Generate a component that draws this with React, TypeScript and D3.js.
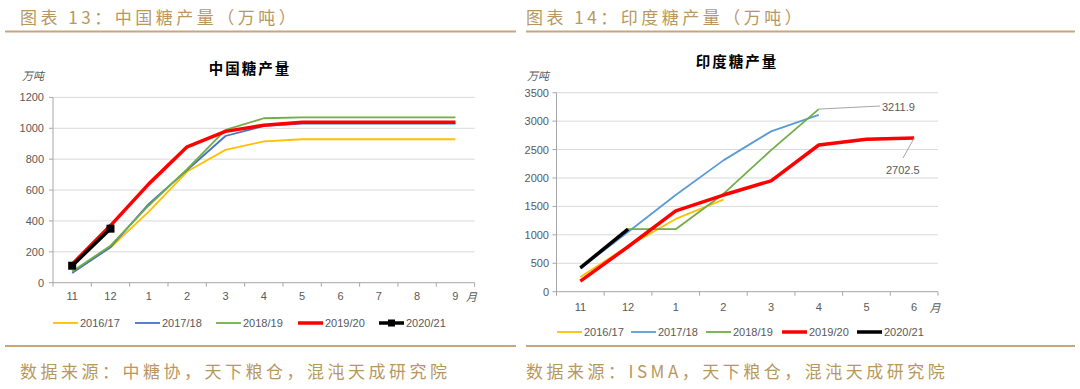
import React from 'react';
import * as d3 from 'd3';

// ---------- data ----------
const cnCats = ['11', '12', '1', '2', '3', '4', '5', '6', '7', '8', '9'];
const cn1617 = [70, 228, 460, 720, 860, 915, 929, 929, 929, 929, 929];
const cn1718 = [62, 230, 510, 730, 950, 1015, 1031, 1031, 1031, 1031, 1031];
const cn1819 = [72, 240, 500, 735, 990, 1065, 1071, 1071, 1071, 1071, 1071];
const cn1920 = [120, 370, 640, 880, 980, 1020, 1039, 1039, 1039, 1039, 1039];
const cn2021 = [110, 350];
const cnTicks = [0, 200, 400, 600, 800, 1000, 1200];

const inCats = ['11', '12', '1', '2', '3', '4', '5', '6'];
const in1617 = [260, 800, 1280, 1620];
const in1718 = [410, 1050, 1700, 2310, 2820, 3110];
const in1819 = [420, 1100, 1100, 1720, 2490, 3211.9];
const in1920 = [185, 790, 1420, 1700, 1950, 2580, 2680, 2702.5];
const in2021 = [420, 1100];
const inTicks = [0, 500, 1000, 1500, 2000, 2500, 3000, 3500];

const seasons = ['2016/17', '2017/18', '2018/19', '2019/20', '2020/21'];
const cnColors = ['#FFC000', '#4472C4', '#70AD47', '#FF0000', '#000000'];
const inColors = ['#FFC000', '#5B9BD5', '#70AD47', '#FF0000', '#000000'];
const widths = [1.8, 1.8, 1.8, 3.5, 3.5];

const TAN = '#b8975f';
const GRAY = '#595959';
const NUM_FONT = '"Liberation Sans", Arial, sans-serif';
const CJK = '"Noto Sans CJK SC", sans-serif';

type ChartProps = {
  cats: string[];
  series: number[][];
  colors: string[];
  ticks: number[];
  x0: number; x1: number; yBottom: number; yTop: number;
  yMax: number; labelRight: number; xLabelY: number;
  title: string; titleX: number; titleY: number;
  unitX: number; unitY: number; markers: boolean;
  legendY: number; legendX: number[];
};

function Chart(p: ChartProps) {
  const x = d3.scaleBand<string>().domain(p.cats).range([p.x0, p.x1]).padding(0);
  const y = d3.scaleLinear().domain([0, p.yMax]).range([p.yBottom, p.yTop]);
  const cx = (i: number) => (x(p.cats[i]) as number) + x.bandwidth() / 2;
  const line = d3.line<number>().x((_, i) => cx(i)).y((d) => y(d));
  const bounds = p.cats.map((c) => x(c) as number).concat([p.x1]);
  return (
    <g>
      <text x={p.titleX} y={p.titleY} textAnchor="middle" dominantBaseline="central"
        fontFamily={CJK} fontWeight="bold" fontSize={14.5} letterSpacing={2} fill="#000">{p.title}</text>
      <text x={p.unitX} y={p.unitY} dominantBaseline="central" fontFamily={CJK}
        fontSize={11} fill={GRAY} fontStyle="italic">万吨</text>
      {p.ticks.map((t) => (
        <g key={t}>
          {t > 0 && <line x1={p.x0} x2={p.x1} y1={y(t)} y2={y(t)} stroke="#d9d9d9" strokeWidth={1} />}
          <line x1={p.x0 - 4} x2={p.x0} y1={y(t)} y2={y(t)} stroke="#a6a6a6" strokeWidth={1} />
          <text x={p.labelRight} y={y(t)} textAnchor="end" dominantBaseline="central"
            fontFamily={NUM_FONT} fontSize={11} fill={GRAY}>{t}</text>
        </g>
      ))}
      <line x1={p.x0} x2={p.x0} y1={p.yTop} y2={p.yBottom} stroke="#a6a6a6" strokeWidth={1} />
      <line x1={p.x0} x2={p.x1} y1={p.yBottom} y2={p.yBottom} stroke="#a6a6a6" strokeWidth={1} />
      {bounds.map((b, i) => (
        <line key={i} x1={b} x2={b} y1={p.yBottom} y2={p.yBottom + 4} stroke="#a6a6a6" strokeWidth={1} />
      ))}
      {p.cats.map((c, i) => (
        <text key={c + i} x={cx(i)} y={p.xLabelY} textAnchor="middle" dominantBaseline="central"
          fontFamily={NUM_FONT} fontSize={11} fill={GRAY}>{c}</text>
      ))}
      <text x={p.x1 - 3} y={p.xLabelY} textAnchor="middle" dominantBaseline="central"
        fontFamily={CJK} fontSize={11} fill={GRAY} fontStyle="italic">月</text>
      {p.series.map((s, k) => (
        <path key={k} d={line(s) as string} fill="none" stroke={p.colors[k]} strokeWidth={widths[k]}
          strokeLinejoin="round" strokeLinecap="butt" />
      ))}
      {p.markers && p.series[4].map((v, i) => (
        <rect key={i} x={cx(i) - 4} y={y(v) - 4} width={8} height={8} fill="#000" />
      ))}
      {seasons.map((s, k) => (
        <g key={s}>
          <line x1={p.legendX[k]} x2={p.legendX[k] + 25} y1={p.legendY} y2={p.legendY}
            stroke={p.colors[k]} strokeWidth={widths[k]} />
          {p.markers && k === 4 && (
            <rect x={p.legendX[k] + 12.5 - 3.5} y={p.legendY - 3.5} width={7} height={7} fill="#000" />
          )}
          <text x={p.legendX[k] + 27} y={p.legendY} dominantBaseline="central"
            fontFamily={NUM_FONT} fontSize={11} fill={GRAY}>{s}</text>
        </g>
      ))}
    </g>
  );
}

export default function App() {
  const inX0 = 556.5, inX1 = 938, inYB = 291.7, inYT = 92.7;
  const xi = d3.scaleBand<string>().domain(inCats).range([inX0, inX1]);
  const yi = d3.scaleLinear().domain([0, 3500]).range([inYB, inYT]);
  const cxi = (c: string) => (xi(c) as number) + xi.bandwidth() / 2;
  const gPt: [number, number] = [cxi('4'), yi(in1819[5])];
  const rPt: [number, number] = [cxi('6'), yi(in1920[7])];
  return (
    <svg width={1080} height={389} style={{ position: 'absolute', left: 0, top: 0, background: '#fff' }}>
      <rect width={1080} height={389} fill="#fff" />
      {/* headers */}
      <text x={20} y={16} dominantBaseline="central" fontFamily={CJK} fontSize={17} letterSpacing={3.5} fill={TAN}>图表 13：中国糖产量（万吨）</text>
      <text x={526} y={16} dominantBaseline="central" fontFamily={CJK} fontSize={17} letterSpacing={3.5} fill={TAN}>图表 14：印度糖产量（万吨）</text>
      <line x1={5} x2={516} y1={31.5} y2={31.5} stroke="#c4a77a" strokeWidth={2} />
      <line x1={526} x2={1075} y1={31.5} y2={31.5} stroke="#c4a77a" strokeWidth={2} />
      <line x1={5} x2={516} y1={346} y2={346} stroke="#c4a77a" strokeWidth={2} />
      <line x1={526} x2={1075} y1={346} y2={346} stroke="#c4a77a" strokeWidth={2} />
      <text x={20} y={370} dominantBaseline="central" fontFamily={CJK} fontSize={17} letterSpacing={3.5} fill={TAN}>数据来源：中糖协，天下粮仓，混沌天成研究院</text>
      <text x={526} y={370} dominantBaseline="central" fontFamily={CJK} fontSize={17} letterSpacing={3.5} fill={TAN}>数据来源：ISMA，天下粮仓，混沌天成研究院</text>

      <Chart cats={cnCats} series={[cn1617, cn1718, cn1819, cn1920, cn2021]} colors={cnColors}
        ticks={cnTicks} x0={53} x1={474.6} yBottom={282.7} yTop={97.4} yMax={1200}
        labelRight={44} xLabelY={296} title="中国糖产量" titleX={250} titleY={67}
        unitX={22} unitY={75} markers={true} legendY={323} legendX={[53, 135, 216, 298, 379]} />

      <Chart cats={inCats} series={[in1617, in1718, in1819, in1920, in2021]} colors={inColors}
        ticks={inTicks} x0={inX0} x1={inX1} yBottom={inYB} yTop={inYT} yMax={3500}
        labelRight={549} xLabelY={307} title="印度糖产量" titleX={737} titleY={60}
        unitX={527} unitY={75} markers={false} legendY={332} legendX={[557, 631, 706, 782, 857]} />

      {/* data labels */}
      <line x1={gPt[0]} y1={gPt[1]} x2={880} y2={106} stroke="#a6a6a6" strokeWidth={1} />
      <text x={882} y={106.5} dominantBaseline="central" fontFamily={NUM_FONT} fontSize={11} fill={GRAY}>{in1819[5]}</text>
      <line x1={rPt[0]} y1={rPt[1]} x2={903} y2={158} stroke="#a6a6a6" strokeWidth={1} />
      <text x={886} y={170} dominantBaseline="central" fontFamily={NUM_FONT} fontSize={11} fill={GRAY}>{in1920[7]}</text>
    </svg>
  );
}
